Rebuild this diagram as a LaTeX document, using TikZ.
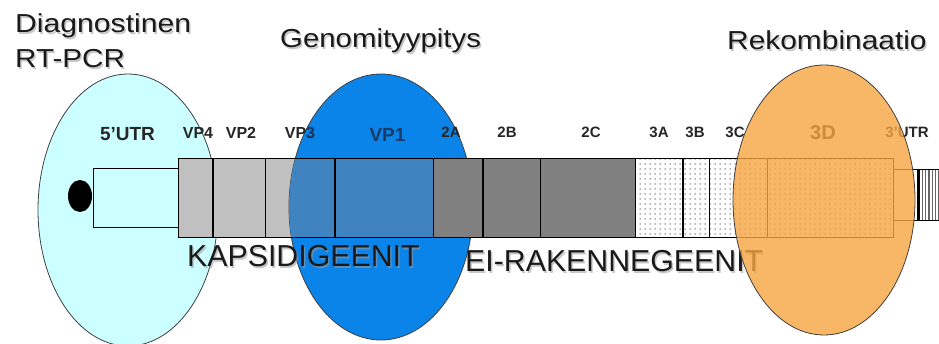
\documentclass[tikz,border=0pt]{standalone}
\usepackage{fontspec}
\setmainfont{Liberation Sans}
\usetikzlibrary{patterns.meta}
\definecolor{cyanfill}{HTML}{CCFFFF}
\definecolor{bluefill}{HTML}{0A84E8}
\definecolor{steelfill}{HTML}{3F84C0}
\definecolor{navytxt}{HTML}{1B3A66}
\definecolor{orangefill}{RGB}{246,165,64}
\definecolor{capgray}{HTML}{C0C0C0}
\definecolor{midgray}{HTML}{808080}
\tikzset{
  title/.style={anchor=base west, inner sep=0pt, font=\fontsize{26}{30}\selectfont, text=black!90},
  bigtxt/.style={anchor=base west, inner sep=0pt, font=\fontsize{30.3}{33}\selectfont, text=black!90},
  shadowtxt/.style={text=black!40, opacity=0.55},
  glabel/.style={anchor=base, inner sep=0pt, font=\bfseries\fontsize{15}{17}\selectfont, text=black!85},
  gbox/.style={draw=black, line width=0.9pt},
  sepline/.style={line width=2.6pt},
  ell/.style={draw=black!75, line width=0.8pt},
  dotted box/.style={gbox, pattern={Dots[radius=0.75pt, distance=5pt]}, pattern color=black!60}
}
\begin{document}
\begin{tikzpicture}[x=1pt,y=-1pt]
\useasboundingbox (0,0) rectangle (939,344);
\fill[white] (0,0) rectangle (939,344);

% left ellipse (diagnostic RT-PCR)
\path[ell, fill=cyanfill] (128,210) ellipse [x radius=90, y radius=136];

% 5'UTR box and cap
\draw[gbox] (93,168) rectangle (178,227);
\fill[black] (80,196) ellipse [x radius=12, y radius=16];

% capsid boxes
\filldraw[gbox, fill=capgray] (178,158) rectangle (433,237);

% blue ellipse (genotyping)
\path[ell, fill=bluefill] (381,207) ellipse [x radius=92, y radius=133];
\begin{scope}
  \clip (381,207) ellipse [x radius=92, y radius=133];
  \fill[steelfill] (265,158) rectangle (433,237);
\end{scope}
\draw[gbox] (178,158) rectangle (213,237);
\draw[gbox] (213,158) rectangle (265,237);
\draw[gbox] (265,158) rectangle (335,237);
\draw[gbox] (335,158) rectangle (433,237);

% non-structural boxes
\filldraw[gbox, fill=midgray] (433,158) rectangle (483,237);
\filldraw[gbox, fill=midgray] (483,158) rectangle (540,237);
\filldraw[gbox, fill=midgray] (540,158) rectangle (635,237);
\path[dotted box] (635,158) rectangle (683,237);
\path[dotted box] (683,158) rectangle (709,237);
\path[dotted box] (709,158) rectangle (767,237);
\path[dotted box] (767,158) rectangle (893,237);
\draw[gbox] (635,158) rectangle (893,237);
\draw[gbox] (635,158) -- (635,237) (683,158) -- (683,237) (709,158) -- (709,237) (767,158) -- (767,237);

% 3'UTR box and poly-A stripes
\draw[gbox] (893,169) -- (917,169) (893,220) -- (917,220);
\draw[line width=2.6pt] (918.5,169) -- (918.5,220);
\foreach \sx in {922.3,925.6,...,940} {
  \draw[black!60, line width=1.3pt] (\sx,169) -- (\sx,220);
}
\draw[gbox] (917,169) -- (939,169) (917,220) -- (939,220);

% thick separators
\draw[sepline] (213,158) -- (213,237);
\draw[sepline] (335,158) -- (335,237);
\draw[sepline] (483,158) -- (483,237);
\draw[sepline] (683,158) -- (683,237);

% gene labels
\node[glabel, font=\bfseries\fontsize{19}{21}\selectfont] (l5utr) at (127.5,141) {5’UTR};
\node[glabel, font=\bfseries\fontsize{16}{18}\selectfont] (lvp4) at (198,139) {VP4};
\node[glabel, font=\bfseries\fontsize{16}{18}\selectfont] (lvp2) at (241,139) {VP2};
\node[glabel, font=\bfseries\fontsize{16}{18}\selectfont] (lvp3) at (300,139) {VP3};
\begin{scope}
  \clip (381,207) ellipse [x radius=92, y radius=133];
  \node[glabel, font=\bfseries\fontsize{16}{18}\selectfont, text=navytxt] (lvp3b) at (300,139) {VP3};
\end{scope}
\node[glabel, font=\bfseries\fontsize{19}{21}\selectfont, text=navytxt] (lvp1) at (387.5,142) {VP1};
\node[glabel] (l2a) at (451,138) {2A};
\node[glabel] (l2b) at (507,138) {2B};
\node[glabel] (l2c) at (591,138) {2C};
\node[glabel] (l3a) at (659,138) {3A};
\node[glabel] (l3b) at (695,138) {3B};
\node[glabel] (l3c) at (735,138) {3C};
\node[glabel, font=\bfseries\fontsize{20}{22}\selectfont] (l3d) at (823,140) {3D};
\node[glabel] (l3utr) at (907,138) {3’UTR};

% non-structural genes caption (partly under orange ellipse)
\node[bigtxt, shadowtxt] (eis) at (466.5,273.5) {EI-RAKENNEGEENIT};
\node[bigtxt] (ei) at (465,272) {EI-RAKENNEGEENIT};

% orange ellipse (recombination)
\path[draw=black!75, line width=0.8pt, fill=orangefill, fill opacity=0.8] (824,200) ellipse [x radius=91, y radius=135];

% capsid genes caption
\node[bigtxt, shadowtxt] (kaps) at (188.5,268.5) {KAPSIDIGEENIT};
\node[bigtxt] (kap) at (187,267) {KAPSIDIGEENIT};

% titles
\node[title, shadowtxt] (t1s) at (16.5,34.5) {\scalebox{1.16}[1]{Diagnostinen}};
\node[title] (t1) at (15,33) {\scalebox{1.16}[1]{Diagnostinen}};
\node[title, shadowtxt] (t2s) at (16.5,69.5) {\scalebox{1.14}[1]{RT-PCR}};
\node[title] (t2) at (15,68) {\scalebox{1.14}[1]{RT-PCR}};
\node[title, shadowtxt] (t3s) at (281.5,49.5) {\scalebox{1.13}[1]{Genomityypitys}};
\node[title] (t3) at (280,48) {\scalebox{1.13}[1]{Genomityypitys}};
\node[title, shadowtxt] (t4s) at (728.5,51.5) {\scalebox{1.15}[1]{Rekombinaatio}};
\node[title] (t4) at (727,50) {\scalebox{1.15}[1]{Rekombinaatio}};
\end{tikzpicture}
\end{document}
